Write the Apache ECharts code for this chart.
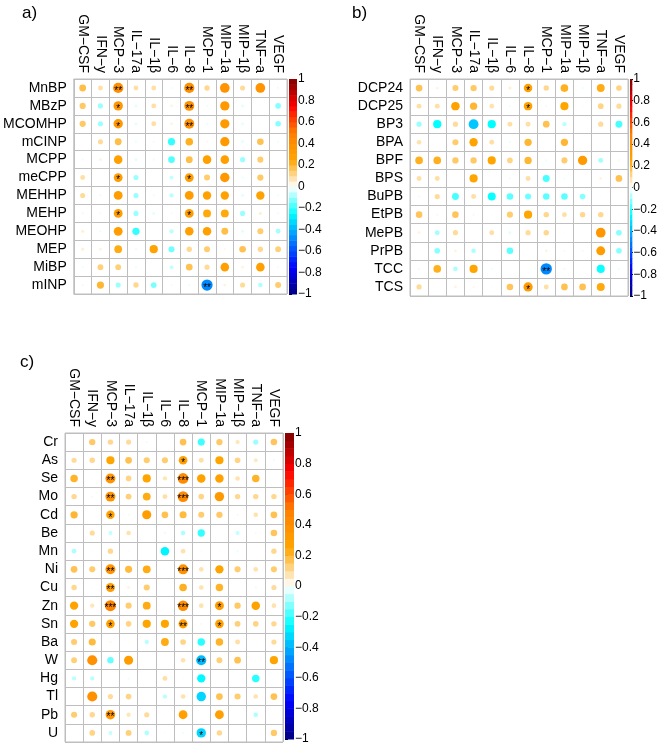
<!DOCTYPE html>
<html><head><meta charset="utf-8">
<script src="https://cdn.jsdelivr.net/npm/echarts@6/dist/echarts.min.js"></script>
<style>html,body{margin:0;padding:0;background:#fff}#c{width:660px;height:745px}</style>
</head><body><div id="c"></div>
<script>
// ---------------- data ----------------
const cytokines = ["GM−CSF","IFN−y","MCP−3","IL−17a","IL−1β","IL−6","IL−8","MCP−1","MIP−1a","MIP−1β","TNF−a","VEGF"];

const rowsA = ["MnBP","MBzP","MCOMHP","mCINP","MCPP","meCPP","MEHHP","MEHP","MEOHP","MEP","MiBP","mINP"];
const valuesA = [
  [0.18, 0.09, 0.40, 0.09, 0.09,-0.02, 0.40, 0.11, 0.36, 0.10, 0.36, 0.02],
  [0.15,-0.10, 0.34,-0.03, 0.09, 0.03, 0.38,-0.02, 0.33,-0.03, 0.01,-0.12],
  [0.15,-0.10, 0.34,-0.03, 0.09, 0.03, 0.38,-0.02, 0.33,-0.03, 0.01,-0.12],
  [0.005,0.10, 0.18,-0.02,-0.02,-0.20, 0.22, 0.02, 0.33,-0.03, 0.17,-0.02],
  [-0.02,0.03, 0.28,-0.03, 0.02,-0.17, 0.18, 0.28, 0.28,-0.10, 0.14,-0.01],
  [0.09, 0.01, 0.30,-0.10,-0.01,-0.06, 0.30, 0.14, 0.34,-0.02, 0.15,-0.01],
  [0.10, 0.02, 0.30,-0.10, 0.02,-0.07, 0.30, 0.27, 0.27,-0.03, 0.27,-0.02],
  [0.02,-0.02, 0.30,-0.10,-0.03,-0.02, 0.30, 0.24, 0.24,-0.10, 0.04,-0.02],
  [0.04,-0.02, 0.30,-0.20, 0.01,-0.07, 0.28, 0.28, 0.18,-0.03, 0.14,-0.09],
  [0.04, 0.03, 0.23, 0.02, 0.26,-0.14, 0.11, 0.14, 0.02, 0.17, 0.11, 0.13],
  [-0.02,0.13, 0.13,-0.02, 0.01,-0.06, 0.17, 0.10, 0.28, 0.03, 0.28,-0.02],
  [0.02, 0.20,-0.10, 0.11,-0.13,-0.02,-0.02,-0.48, 0.03, 0.10,-0.08, 0.14]
];
const starsA = [
  ["MnBP","MCP−3","**"],["MnBP","IL−8","**"],
  ["MBzP","MCP−3","*"],["MBzP","IL−8","**"],
  ["MCOMHP","MCP−3","*"],["MCOMHP","IL−8","**"],
  ["meCPP","MCP−3","*"],["meCPP","IL−8","*"],
  ["MEHP","MCP−3","*"],["MEHP","IL−8","*"],
  ["mINP","MCP−1","**"]
];

const rowsB = ["DCP24","DCP25","BP3","BPA","BPF","BPS","BuPB","EtPB","MePB","PrPB","TCC","TCS"];
const valuesB = [
  [0.17, 0.03, 0.14, 0.15, 0.10, 0.04, 0.27, 0.11, 0.22,-0.02, 0.23, 0.12],
  [0.09, 0.09, 0.27, 0.20, 0.08,-0.02, 0.27, 0.02, 0.25, 0.01, 0.12, 0.10],
  [-0.10,-0.25,0.10,-0.36,-0.25, 0.09, 0.09, 0.17,-0.07,-0.01, 0.10,-0.18],
  [0.08,-0.01, 0.14, 0.26, 0.09,-0.02, 0.20,-0.01, 0.20,-0.01, 0.01, 0.01],
  [0.22, 0.22, 0.15, 0.15, 0.25, 0.12, 0.20,-0.02, 0.14, 0.32,-0.09, 0.02],
  [0.09, 0.09,-0.01, 0.25, 0.01, 0.02, 0.09,-0.18,-0.02, 0.01, 0.03, 0.17],
  [-0.02,0.10,-0.18, 0.09,-0.24,-0.16,-0.14,-0.16,-0.16,-0.12, 0.01, 0.01],
  [0.16, 0.02, 0.16, 0.02, 0.01, 0.14, 0.25, 0.11, 0.09, 0.11, 0.11, 0.01],
  [0.03,-0.09, 0.10, 0.01, 0.09,-0.03, 0.10, 0.11, 0.01, 0.01, 0.35,-0.12],
  [0.01,-0.12, 0.03,-0.08, 0.01,-0.16, 0.01, 0.03,-0.02,-0.02, 0.30,-0.12],
  [0.02, 0.22,-0.08, 0.25,-0.02, 0.00,-0.01,-0.48, 0.02,-0.01,-0.24,-0.02],
  [0.10, 0.01, 0.03, 0.02,-0.01, 0.16, 0.32, 0.09, 0.17, 0.17, 0.24, 0.01]
];
const starsB = [
  ["DCP24","IL−8","*"],["DCP25","IL−8","*"],["TCC","MCP−1","**"],["TCS","IL−8","*"]
];

const rowsC = ["Cr","As","Se","Mo","Cd","Be","Mn","Ni","Cu","Zn","Sn","Ba","W","Hg","Tl","Pb","U"];
const valuesC = [
  [0.01, 0.15, 0.11, 0.10, 0.02, 0.00, 0.17,-0.19, 0.15, 0.07,-0.10, 0.16],
  [0.10, 0.11, 0.25, 0.17, 0.14, 0.14, 0.28, 0.09, 0.25, 0.12, 0.06,-0.02],
  [0.21, 0.01, 0.37, 0.12, 0.25, 0.07, 0.43, 0.27, 0.27, 0.08, 0.21, 0.01],
  [0.11, 0.02, 0.37, 0.13, 0.23, 0.09, 0.43, 0.12, 0.33, 0.11, 0.11, 0.11],
  [0.20, 0.01, 0.27, 0.02, 0.31, 0.17, 0.19, 0.14, 0.15, 0.02, 0.08, 0.17],
  [0.01, 0.10,-0.06, 0.08, 0.00,-0.02,-0.08,-0.20, 0.01,-0.06,-0.02, 0.16],
  [-0.08,0.01, 0.11, 0.01, 0.00,-0.27, 0.08, 0.01,-0.01,-0.02, 0.00, 0.11],
  [0.17, 0.14, 0.37, 0.19, 0.23, 0.01, 0.38, 0.08, 0.26, 0.14, 0.08, 0.14],
  [0.11, 0.01, 0.30, 0.03, 0.14, 0.00, 0.22, 0.08, 0.21,-0.01, 0.02, 0.10],
  [0.26, 0.07, 0.46, 0.14, 0.23, 0.01, 0.41, 0.08, 0.30, 0.15, 0.27, 0.08],
  [0.26, 0.15, 0.28, 0.12, 0.25, 0.25, 0.31, 0.02, 0.28, 0.13, 0.12, 0.11],
  [0.14, 0.19, 0.02, 0.01,-0.07, 0.23, 0.12,-0.21, 0.21, 0.09,-0.01, 0.10],
  [0.13, 0.38,-0.15, 0.31, 0.01,-0.01, 0.08,-0.38, 0.13, 0.17, 0.01, 0.25],
  [-0.07,-0.07,-0.01,-0.02,-0.01,0.09,-0.01,-0.26, 0.01, 0.01,-0.21, 0.01],
  [0.01, 0.38, 0.10, 0.12,-0.01,-0.07, 0.08,-0.33, 0.17, 0.14, 0.08, 0.17],
  [0.14, 0.11, 0.34, 0.07, 0.10, 0.01, 0.29, 0.00, 0.29,-0.01,-0.08, 0.01],
  [0.00, 0.12,-0.06, 0.13,-0.08, 0.01,-0.02,-0.33, 0.11, 0.01, 0.00, 0.15]
];
const starsC = [
  ["As","IL−8","*"],
  ["Se","MCP−3","**"],["Se","IL−8","***"],
  ["Mo","MCP−3","**"],["Mo","IL−8","***"],
  ["Cd","MCP−3","*"],
  ["Ni","MCP−3","**"],["Ni","IL−8","***"],
  ["Cu","MCP−3","**"],
  ["Zn","MCP−3","***"],["Zn","IL−8","***"],["Zn","MIP−1a","*"],
  ["Sn","MCP−3","*"],["Sn","IL−8","**"],["Sn","MIP−1a","*"],
  ["W","MCP−1","**"],
  ["Pb","MCP−3","**"],
  ["U","MCP−1","*"]
];

const colorbarTicks = [-1,-0.8,-0.6,-0.4,-0.2,0,0.2,0.4,0.6,0.8,1];
const panelTitles = ["a)","b)","c)"];

// ---------------- layout / style ----------------
const FONT = '"Liberation Sans", Arial, Helvetica, sans-serif';
const PALETTE = ["#00007F","#0000FF","#007FFF","#00FFFF","#FFFFFF","#FFA500","#FF7F00","#FF0000","#7F0000"];
const GRIDCOL = "#BEBEBE";

const panels = [
  {rows: rowsA, vals: valuesA, stars: starsA, title: panelTitles[0], tl: [17, 0],
   grid: {left: 72, top: 79, width: 215, height: 215}, bar: {left: 289, top: 79, width: 8, height: 215}},
  {rows: rowsB, vals: valuesB, stars: starsB, title: panelTitles[1], tl: [347, 0],
   grid: {left: 410, top: 79, width: 218, height: 217}, bar: {left: 630, top: 79, width: 9, height: 217}},
  {rows: rowsC, vals: valuesC, stars: starsC, title: panelTitles[2], tl: [15, 349],
   grid: {left: 65, top: 433, width: 218, height: 309}, bar: {left: 285, top: 433, width: 9, height: 309}}
];

// colour bands for the colour legend (legend drawing only)
const bands = [];
for (let k = 0; k < 40; k++) {
  const lo = -1 + k * 0.05, hi = lo + 0.05;
  bands.push([0, (lo + hi) / 2, lo, hi]);
}

const grids = [], xAxes = [], yAxes = [], series = [], titles = [];
const scatterIdx = [], barIdx = [];

panels.forEach((p, i) => {
  const cell = p.grid.width / cytokines.length;
  titles.push({text: p.title, left: p.tl[0], top: p.tl[1],
    textStyle: {fontFamily: FONT, fontSize: 17, fontWeight: 'normal', color: '#000'}});
  grids.push(Object.assign({show: true, borderColor: GRIDCOL, borderWidth: 1, backgroundColor: '#fff'}, p.grid));
  grids.push(Object.assign({show: false}, p.bar));
  const gm = 2 * i, gb = 2 * i + 1;
  xAxes.push({type: 'category', gridIndex: gm, data: cytokines, position: 'top', boundaryGap: true,
    axisLine: {show: false}, axisTick: {show: false},
    axisLabel: {rotate: 90, interval: 0, margin: 6, fontSize: 14, color: '#000', fontFamily: FONT,
      align: 'right', verticalAlign: 'middle'},
    splitLine: {show: true, interval: 0, lineStyle: {color: GRIDCOL, width: 1}}});
  yAxes.push({type: 'category', gridIndex: gm, data: p.rows, inverse: true, boundaryGap: true,
    axisLine: {show: false}, axisTick: {show: false},
    axisLabel: {interval: 0, margin: 7, fontSize: 14, color: '#000', fontFamily: FONT},
    splitLine: {show: true, interval: 0, lineStyle: {color: GRIDCOL, width: 1}}});
  xAxes.push({type: 'value', gridIndex: gb, min: 0, max: 1, show: false});
  yAxes.push({type: 'value', gridIndex: gb, min: -1, max: 1, interval: 0.2, position: 'right',
    axisLine: {show: false},
    axisTick: {show: true, length: 3, lineStyle: {color: '#000', width: 1}},
    axisLabel: {margin: 1, fontSize: 12, color: '#000', fontFamily: FONT,
      formatter: v => { const r = Math.round(v * 10) / 10; return r < 0 ? '−' + Math.abs(r) : String(r); }},
    splitLine: {show: false}});

  const starMap = {};
  p.stars.forEach(s => { starMap[s[0] + '|' + s[1]] = s[2]; });
  const data = [];
  p.rows.forEach((r, ri) => {
    cytokines.forEach((c, ci) => {
      const item = {value: [ci, ri, p.vals[ri][ci]]};
      const st = starMap[r + '|' + c];
      if (st) item.label = {show: true, formatter: st};
      data.push(item);
    });
  });
  scatterIdx.push(series.length);
  series.push({type: 'scatter', xAxisIndex: gm, yAxisIndex: gm, data: data, silent: true,
    symbol: 'circle',
    symbolSize: v => 0.9 * Math.sqrt(Math.abs(v[2])) * cell,
    itemStyle: {opacity: 1},
    label: {show: false, position: 'inside', fontSize: 10, color: '#000', fontFamily: FONT, offset: [0, 3]}});
  barIdx.push(series.length);
  series.push({type: 'custom', xAxisIndex: gb, yAxisIndex: gb, data: bands, silent: true,
    renderItem: (params, api) => {
      const a = api.coord([0, api.value(3)]);
      const b = api.coord([1, api.value(2)]);
      return {type: 'rect', shape: {x: a[0], y: a[1], width: b[0] - a[0], height: b[1] - a[1] + 0.5},
        style: {fill: api.visual('color')}};
    }});
});

const chart = echarts.init(document.getElementById('c'), null, {renderer: 'canvas'});
chart.setOption({
  backgroundColor: '#fff',
  animation: false,
  title: titles,
  grid: grids,
  xAxis: xAxes,
  yAxis: yAxes,
  visualMap: [
    {type: 'continuous', show: false, min: -1, max: 1, dimension: 2, seriesIndex: scatterIdx, inRange: {color: PALETTE}},
    {type: 'continuous', show: false, min: -1, max: 1, dimension: 1, seriesIndex: barIdx, inRange: {color: PALETTE}}
  ],
  series: series
});
</script></body></html>
